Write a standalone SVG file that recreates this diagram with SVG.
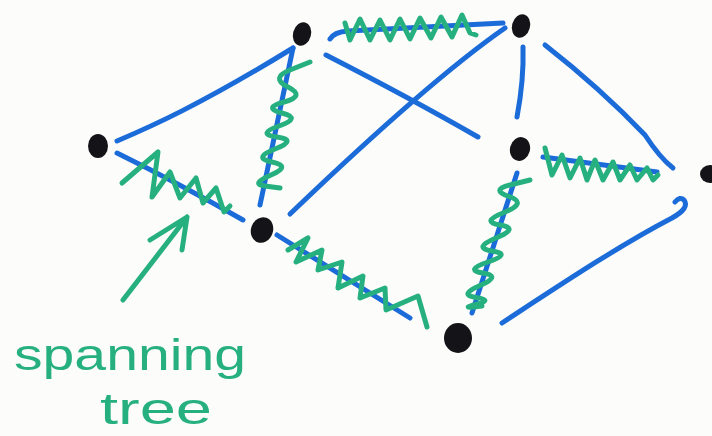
<svg xmlns="http://www.w3.org/2000/svg" width="712" height="436" viewBox="0 0 712 436">
<style>
.bg{fill:#fcfcfb}
.e{fill:none;stroke:#1b6bd9;stroke-width:5;stroke-linecap:round;stroke-linejoin:round}
.t{fill:none;stroke:#27b07f;stroke-width:5;stroke-linecap:round;stroke-linejoin:round}
.n{fill:#141418}
.lbl{fill:#27b07f;font-family:"Liberation Sans","DejaVu Sans",sans-serif;font-size:44px}
</style>
<rect class="bg" x="0" y="0" width="712" height="436"/>
<g id="connectors">
  <path class="e" d="M117,141 C150,127 200,105 293,48"/>
  <path class="e" d="M117,153 Q180,184 243,220"/>
  <path class="e" d="M293,48 L260,205"/>
  <path class="e" d="M330,39 Q334,32 348,31 L503,23"/>
  <path class="e" d="M326,55 Q410,98 478,137"/>
  <path class="e" d="M505,28 Q430,80 290,214"/>
  <path class="e" d="M523,47 Q524,80 517,117"/>
  <path class="e" d="M545,45 Q600,88 645,135 Q660,158 673,168"/>
  <path class="e" d="M543,157 L657,172"/>
  <path class="e" d="M277,235 L410,318"/>
  <path class="e" d="M517,173 L472,313"/>
  <path class="e" d="M502,323 C560,285 620,245 672,218 Q690,208 684,200 Q680,196 675,202"/>
  <g id="spanning-tree">
    <polyline class="t" points="122,183 158,152 152,197 170,172 180,198 196,178 203,203 216,188 224,212 230,206"/>
    <path class="t" d="M310,62 L290,70 Q270,78 288,87 Q306,96 284,102 Q262,108 282,113 Q302,118 279,126 Q256,134 277,137 Q298,140 275,149 Q252,158 272,162 Q292,166 271,175 Q250,184 265,186 L280,188"/>
    <polyline class="t" points="345,23 350,40 360,19 370,40 380,20 390,40 400,19 410,39 420,18 431,38 441,17 452,37 462,15 470,33 476,35"/>
    <polyline class="t" points="545,148 552,175 562,155 570,178 580,158 587,180 595,160 603,180 613,162 620,180 630,165 637,180 647,168 653,180 658,175"/>
    <polyline class="t" points="288,250 308,238 296,262 322,250 318,270 342,262 338,288 363,276 360,298 385,288 386,310 418,296 427,327"/>
    <path class="t" d="M530,180 L510,185 Q490,190 509,196.5 Q528,203 504,212.5 Q480,222 500,225 Q520,228 496,238 Q472,248 492,251 Q512,254 488,262 Q464,270 483,273 Q502,276 480,285.5 Q458,295 476,297.5 Q494,300 476,304.5 Q458,309 482,306"/>
  </g>
</g>
<g id="node-A"><ellipse class="n" cx="98" cy="146" rx="10" ry="12"/></g>
<g id="node-B"><ellipse class="n" cx="302" cy="34" rx="9" ry="12" transform="rotate(15 302 34)"/></g>
<g id="node-C"><ellipse class="n" cx="521" cy="26" rx="9" ry="12" transform="rotate(15 521 26)"/></g>
<g id="node-D"><ellipse class="n" cx="262" cy="230" rx="11" ry="13" transform="rotate(20 262 230)"/></g>
<g id="node-E"><ellipse class="n" cx="520" cy="149" rx="10" ry="12" transform="rotate(15 520 149)"/></g>
<g id="node-F"><ellipse class="n" cx="710" cy="174" rx="10" ry="9"/></g>
<g id="node-G"><ellipse class="n" cx="458" cy="338" rx="14" ry="15"/></g>
<g id="annotation">
  <path class="t" d="M123,300 L187,217 M150,240 L187,217 L182,250"/>
  <text class="lbl" x="14" y="370" textLength="232" lengthAdjust="spacingAndGlyphs">spanning</text>
  <text class="lbl" x="100" y="424" textLength="112" lengthAdjust="spacingAndGlyphs">tree</text>
</g>
</svg>
